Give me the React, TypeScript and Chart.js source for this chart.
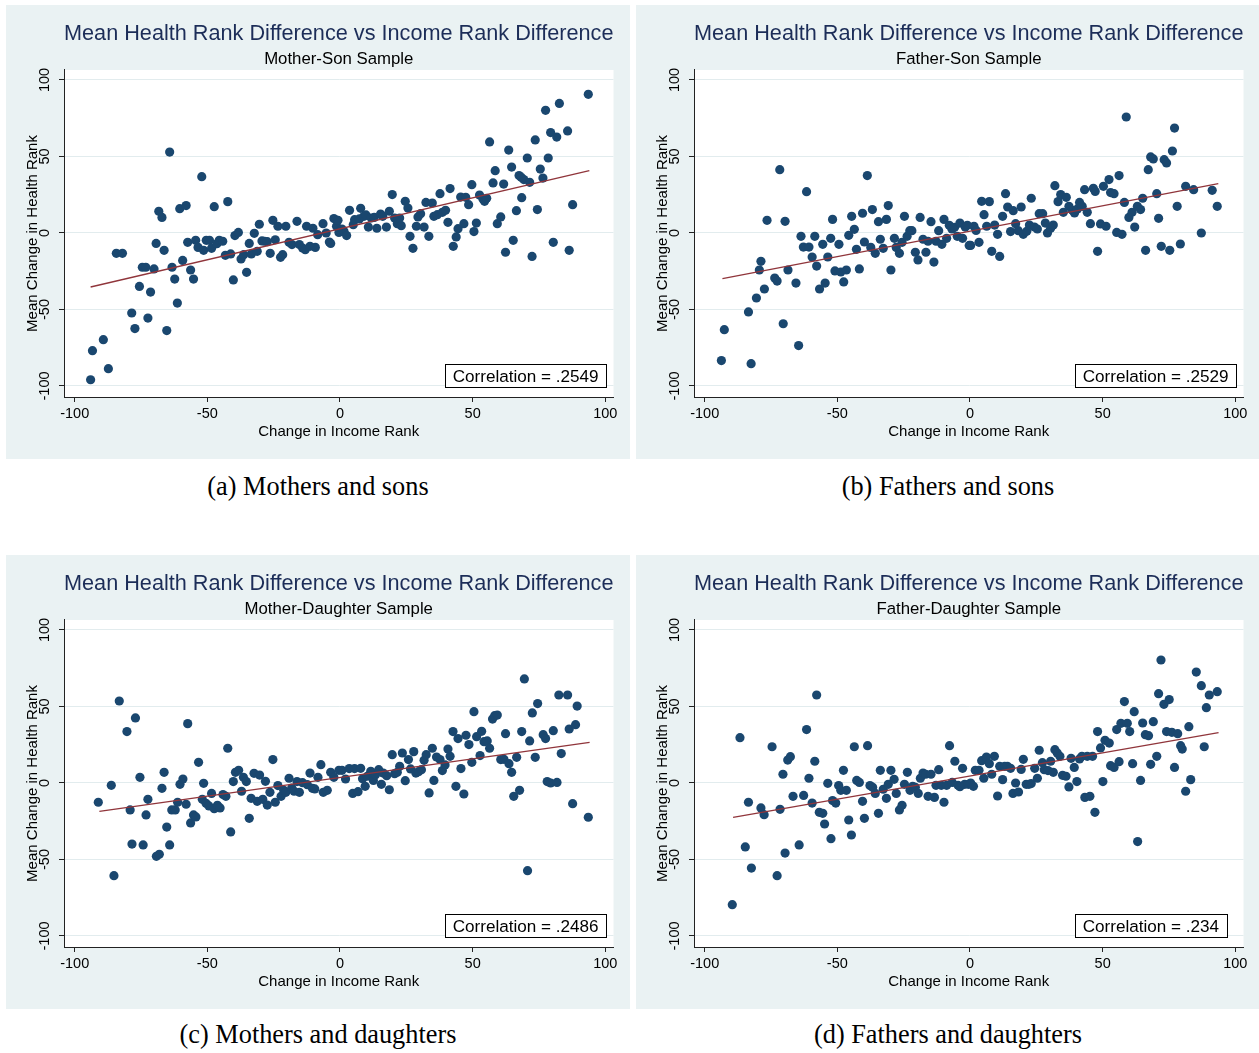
import React, { useEffect, useRef } from 'react';
import { Chart, registerables } from 'chart.js';

Chart.register(...registerables);

// ---------- data ----------
const xTicks = [-100, -50, 0, 50, 100];
const yTicks = [-100, -50, 0, 50, 100];
const mainTitle = 'Mean Health Rank Difference vs Income Rank Difference';
const xAxisTitle = 'Change in Income Rank';
const yAxisTitle = 'Mean Change in Health Rank';
const subtitles = ['Mother-Son Sample', 'Father-Son Sample', 'Mother-Daughter Sample', 'Father-Daughter Sample'];
const correlations = ['.2549', '.2529', '.2486', '.234'];
const captions = ['(a) Mothers and sons', '(b) Fathers and sons', '(c) Mothers and daughters', '(d) Fathers and daughters'];

const motherSon: [number, number][] = [
  [-94.0, -95.9], [-93.3, -76.9], [-89.2, -69.7], [-87.3, -88.7], [-84.3, -13.3], [-82.0, -13.3], [-78.5, -52.3], [-77.3, -62.5],
  [-75.6, -34.9], [-74.5, -22.4], [-73.2, -22.4], [-72.4, -55.6], [-71.4, -38.6], [-70.1, -23.5], [-69.3, -6.8], [-68.3, 14.2],
  [-67.1, 10.2], [-66.3, -11.3], [-65.3, -63.8], [-64.2, 52.9], [-63.3, -22.4], [-62.3, -30.1], [-61.3, -45.8], [-60.4, 15.9],
  [-59.3, -17.9], [-58.0, 17.9], [-57.4, -6.1], [-56.3, -24.2], [-55.2, -30.1], [-54.4, -4.8], [-53.5, -9.4], [-52.1, 36.8],
  [-51.4, -11.3], [-50.4, -4.8], [-49.2, -4.8], [-48.4, -10.0], [-47.4, 17.2], [-46.4, -7.0], [-45.5, -4.8], [-44.2, -5.4],
  [-43.2, -14.6], [-42.3, 20.5], [-41.2, -13.7], [-40.2, -30.7], [-39.6, -1.7], [-38.3, 0.4], [-37.3, -17.0], [-36.3, -14.2],
  [-35.2, -25.7], [-34.2, -6.8], [-33.4, -13.7], [-32.3, -0.2], [-31.2, -12.0], [-30.4, 5.7], [-29.4, -5.2], [-28.4, -5.4],
  [-27.4, -5.7], [-26.3, -13.3], [-25.3, 8.3], [-24.4, -4.4], [-23.4, 4.4], [-22.4, -15.9], [-21.6, -14.2], [-20.4, 4.4],
  [-19.2, -6.1], [-18.1, -7.6], [-16.2, 7.6], [-15.3, -7.6], [-14.1, -9.8], [-13.1, -10.9], [-12.6, 4.4], [-11.3, -8.7],
  [-10.2, 3.1], [-9.3, -9.4], [-8.4, -1.1], [-6.4, 6.1], [-5.2, 0], [-4.0, -5.9], [-3.5, -6.8], [-2.3, 9.4], [-1.3, 4.4],
  [-0.4, 0.4], [-0.75, 8.3], [0.75, 2.6], [1.5, 1.1], [2.5, -1.7], [3.6, 14.8], [5.0, 5.4], [5.5, 8.7], [7.8, 16.1], [7.3, 9.2],
  [9.0, 10.9], [9.8, 11.8], [10.7, 3.9], [11.8, 9.8], [12.9, 10.2], [13.9, 3.1], [15.3, 12.4], [16.1, 10.9], [17.5, 3.9],
  [18.6, 14.2], [19.7, 25.1], [20.6, 9.8], [21.6, 6.1], [22.5, 9.8], [23.1, 4.8], [24.6, 20.7], [25.6, 16.3], [26.4, -2.2],
  [27.5, -10.0], [28.8, 4.4], [29.4, 10.5], [30.4, 12.6], [31.7, 3.9], [32.4, 20.0], [33.5, -2.2], [34.8, 19.6], [35.4, 10.9],
  [36.7, 12.0], [37.7, 25.7], [38.6, 13.5], [39.8, 14.8], [40.7, 7.0], [41.5, 29.0], [42.7, -8.7], [43.8, -2.6], [44.5, 2.8],
  [45.5, 23.5], [46.7, 6.1], [47.4, 23.3], [48.5, 18.5], [49.7, 31.6], [50.5, 0.9], [51.4, 6.5], [52.6, 24.8], [53.9, 22.2],
  [54.5, 20.7], [55.3, 22.7], [56.4, 59.5], [57.7, 32.7], [58.5, 40.7], [59.3, 6.1], [60.6, 10.5], [61.7, 32.0], [62.4, -12.6],
  [63.6, 54.2], [64.7, 43.1], [65.3, -4.8], [66.5, 14.6], [67.5, 37.5], [68.3, 36.4], [68.5, 23.1], [69.3, 34.9], [70.6, 49.0],
  [71.5, 33.1], [72.4, -15.3], [73.6, 60.8], [74.4, 15.3], [75.5, 41.8], [76.5, 35.9], [77.5, 80.2], [78.5, 49.0], [79.4, 65.6],
  [80.4, -6.1], [81.7, 62.7], [82.7, 84.7], [85.8, 66.7], [86.4, -11.3], [87.7, 18.5], [93.6, 90.6],
];
const motherSonFit: [number, number][] = [[-94.0, -35.3], [94.0, 40.7]];

const fatherSon: [number, number][] = [
  [-93.7, -83.4], [-92.6, -63.2], [-82.5, -85.4], [-83.5, -51.6], [-80.5, -42.5], [-79.4, -24.2], [-78.8, -18.5], [-77.5, -36.6],
  [-76.5, 8.3], [-73.6, -29.4], [-72.7, -31.4], [-71.7, 41.4], [-70.4, -59.3], [-69.7, 7.6], [-68.6, -24.2], [-65.6, -32.7],
  [-64.6, -73.6], [-63.7, -2.2], [-62.8, -9.2], [-61.6, 27.0], [-60.7, -9.2], [-59.5, -15.7], [-58.5, -2.2], [-57.8, -21.6],
  [-56.7, -36.6], [-55.5, -7.4], [-54.6, -32.7], [-53.6, -15.7], [-52.5, -3.5], [-51.8, 8.9], [-50.9, -24.8], [-49.4, -7.4],
  [-48.7, -25.5], [-47.6, -32.0], [-46.6, -24.2], [-45.7, -1.5], [-44.6, 10.9], [-43.6, 2.4], [-42.8, -10.7], [-41.7, -23.5],
  [-40.5, 12.9], [-39.8, -5.9], [-38.7, 37.5], [-37.4, -9.4], [-36.8, 15.3], [-35.7, -13.3], [-34.5, 7.4], [-33.8, -4.1],
  [-32.7, -10.0], [-31.5, 8.9], [-30.8, 17.9], [-29.8, -24.2], [-28.5, -3.5], [-27.8, -9.4], [-26.6, -13.3], [-25.6, -6.1],
  [-24.7, 10.9], [-23.7, -2.2], [-22.7, 1.5], [-21.9, 1.5], [-20.6, -12.6], [-19.6, -17.6], [-18.8, 10.2], [-17.7, -4.1],
  [-16.6, -12.6], [-15.8, -5.4], [-14.7, 7.4], [-13.6, -19.0], [-12.8, -5.4], [-11.8, 1.5], [-10.6, -7.4], [-9.8, 8.9],
  [-8.8, -3.5], [-7.8, 5.0], [-6.8, 2.6], [-5.8, 3.7], [-4.8, -2.2], [-3.8, 6.5], [-2.8, -3.5], [-1.8, 3.9], [-0.3, -8.1],
  [-1.0, 5.0], [0.25, -8.1], [1.5, 4.4], [2.3, 1.7], [3.4, -6.1], [4.4, 20.7], [5.3, 12.0], [6.3, 4.4], [7.3, 20.5], [8.2, -12.0],
  [9.3, 5.2], [10.4, -0.9], [11.2, -15.3], [12.3, 10.9], [13.4, 25.7], [14.2, 17.0], [15.3, 0.9], [16.3, 14.6], [17.2, 6.1],
  [18.2, 1.5], [19.3, 17.0], [20.1, -0.9], [21.4, 1.1], [22.4, 5.2], [23.1, 22.7], [24.3, 3.9], [25.4, 2.6], [26.1, 12.6],
  [27.4, 12.6], [28.4, 6.5], [29.2, 0], [30.4, 3.1], [31.4, 5.2], [32.0, 30.9], [33.2, 20.5], [34.2, 25.1], [35.2, 13.5],
  [36.3, 23.3], [37.3, 17.4], [38.6, 14.8], [39.4, 13.1], [40.5, 15.7], [41.3, 20.0], [42.3, 17.4], [43.2, 28.3], [44.2, 13.5],
  [45.4, 6.1], [46.5, 29.2], [47.2, 27.2], [48.1, -12.0], [49.2, 5.9], [50.3, 30.5], [51.3, 4.4], [52.4, 34.9], [53.0, 26.4],
  [54.3, 25.7], [55.3, 0.4], [56.2, 37.5], [57.3, -0.9], [58.2, 20.0], [58.9, 75.8], [59.9, 10.2], [61.1, 13.5], [62.1, 3.9],
  [63.1, 17.4], [64.3, 15.3], [65.1, 22.7], [66.2, -11.3], [67.2, 41.4], [68.1, 49.7], [69.1, 48.4], [70.4, 25.7], [71.1, 9.6],
  [72.1, -8.7], [73.2, 47.9], [74.1, 45.8], [75.3, -11.3], [76.3, 53.6], [77.1, 68.6], [78.1, 17.4], [79.3, -7.2], [81.3, 30.5],
  [84.3, 28.3], [87.2, 0], [91.3, 27.9], [93.2, 17.4],
];
const fatherSonFit: [number, number][] = [[-93.3, -29.8], [93.6, 32.2]];

const motherDaughter: [number, number][] = [
  [-91.1, -12.6], [-86.2, -1.5], [-85.2, -60.6], [-83.2, 53.6], [-80.3, 33.6], [-79.1, -17.6], [-78.4, -39.9], [-77.1, 42.5],
  [-75.4, 3.7], [-74.2, -40.5], [-73.1, -20.9], [-72.4, -10.7], [-69.2, -47.9], [-68.1, -46.6], [-67.1, -3.5], [-66.3, 7.0],
  [-65.3, -28.8], [-64.2, -40.5], [-63.4, -17.6], [-62.1, -17.6], [-61.2, -12.6], [-60.3, -0.9], [-59.2, 2.6], [-58.0, -13.9],
  [-57.4, 38.8], [-56.3, -26.1], [-55.2, -20.9], [-54.3, -22.2], [-53.3, 13.5], [-51.4, -0.2], [-51.9, -10.7], [-50.5, -13.3],
  [-49.4, -15.0], [-48.4, -6.8], [-47.4, -16.8], [-46.2, -14.6], [-45.2, -16.3], [-44.1, -7.6], [-43.0, -8.7], [-42.3, 22.7],
  [-41.2, -32.0], [-40.2, 0.9], [-39.4, 7.0], [-38.2, 8.3], [-37.1, -5.4], [-36.4, 3.7], [-35.3, 0.9], [-34.2, -23.1],
  [-33.5, -10.0], [-32.4, 6.3], [-31.2, -12.0], [-30.3, 5.2], [-29.1, -10.7], [-28.1, 1.1], [-27.4, -14.4], [-26.4, -6.1],
  [-25.3, 15.3], [-24.4, -12.6], [-23.4, -1.7], [-22.2, -8.7], [-21.2, -4.8], [-19.2, 3.1], [-20.4, -6.1], [-18.2, -3.3],
  [-17.3, -5.4], [-16.2, 0.9], [-15.3, -6.1], [-14.1, 0.2], [-12.3, -1.1], [-11.3, 6.5], [-10.4, -3.5], [-9.5, -3.9], [-8.3, 3.7],
  [-7.2, 12.0], [-6.3, -6.1], [-4.8, -4.8], [-3.5, 7.0], [-2.3, 3.7], [-0.4, 8.3], [0.75, 8.3], [2.1, 2.6], [3.5, 9.4], [4.8, -6.8],
  [5.5, 9.4], [6.8, -5.7], [7.8, 9.6], [8.5, 2.8], [9.5, -2.2], [10.3, 4.4], [11.6, 7.6], [12.6, 1.7], [13.4, 5.4], [14.6, 8.7],
  [15.6, -0.9], [16.3, 6.5], [17.6, 4.8], [18.6, -4.4], [19.7, 18.5], [20.6, 6.1], [21.6, 7.0], [22.5, 10.9], [23.5, 19.6],
  [24.6, 1.5], [25.8, 15.3], [26.6, 9.2], [27.8, 20.5], [28.6, 6.5], [29.6, 7.4], [30.7, 8.7], [31.7, 14.8], [32.5, 18.5],
  [33.6, -6.5], [34.8, 22.7], [35.4, 1.7], [36.4, 17.0], [37.7, 15.3], [38.6, 8.1], [39.6, 11.8], [40.7, 22.2], [41.5, 17.4],
  [42.6, 33.6], [43.7, -2.2], [44.5, 29.0], [45.6, 9.4], [46.7, -7.2], [47.5, 31.2], [48.6, 25.1], [49.7, 13.5], [50.5, 46.6],
  [51.5, 30.3], [52.8, 17.9], [53.4, 33.8], [54.3, 27.0], [55.5, 27.5], [56.4, 22.7], [57.5, 41.8], [58.3, 44.0], [59.3, 44.4],
  [60.6, 15.3], [61.8, 15.5], [62.4, 32.2], [63.7, 12.6], [64.7, 7.0], [65.5, -8.7], [66.6, 16.8], [67.7, -4.8], [68.5, 33.6],
  [69.5, 68.0], [70.7, -57.3], [71.5, 27.5], [72.5, 45.8], [73.6, 16.8], [74.5, 51.9], [76.6, 31.6], [77.5, 29.0], [78.1, 0.9],
  [79.4, 0], [80.4, 34.2], [81.8, 0.4], [82.5, 57.5], [83.4, 19.2], [85.8, 57.5], [86.4, 35.3], [87.7, -13.5], [88.8, 38.1],
  [89.4, 50.3], [93.6, -22.4],
];
const motherDaughterFit: [number, number][] = [[-90.7, -18.5], [94.1, 26.6]];

const fatherDaughter: [number, number][] = [
  [-89.6, -79.5], [-86.7, 29.6], [-84.7, -41.8], [-83.5, -12.6], [-82.4, -55.6], [-78.8, -16.3], [-77.6, -20.7], [-74.6, 23.7],
  [-72.7, -60.6], [-71.6, -17.2], [-70.5, 5.7], [-69.7, -45.8], [-68.7, 15.0], [-67.7, 17.2], [-66.7, -8.7], [-64.4, -40.5],
  [-62.7, -8.1], [-61.6, 34.9], [-60.7, 3.1], [-59.5, -13.1], [-58.5, 14.2], [-57.8, 57.5], [-56.8, -19.2], [-55.5, -19.8],
  [-54.8, -26.8], [-53.6, -0.2], [-52.4, -36.4], [-51.8, -11.5], [-50.6, -13.1], [-49.5, -1.7], [-48.7, -4.8], [-47.7, 8.3],
  [-46.6, -4.8], [-45.7, -24.2], [-44.7, -34.0], [-43.6, 23.7], [-42.7, 1.7], [-41.7, 0.4], [-40.5, -12.0], [-39.8, -23.1],
  [-38.6, 24.4], [-37.7, -1.7], [-36.7, -2.8], [-35.7, -6.8], [-34.5, -19.8], [-33.8, 8.3], [-32.7, -4.1], [-31.5, -10.0],
  [-30.8, -0.9], [-29.8, 8.3], [-28.6, 2.4], [-27.8, -6.8], [-26.6, -17.6], [-25.6, -14.6], [-24.7, -0.9], [-23.6, 7.0],
  [-22.6, -4.8], [-21.6, -2.2], [-20.6, -2.8], [-19.5, -6.8], [-18.7, 3.1], [-17.7, 6.5], [-15.8, -8.7], [-16.7, 5.7],
  [-14.7, 5.7], [-13.4, -9.4], [-12.8, -1.5], [-11.8, 8.7], [-10.8, -1.5], [-9.8, -12.6], [-8.8, -1.5], [-7.7, 24.4], [-6.7, 0.4],
  [-5.7, 14.2], [-4.5, -1.5], [-3.8, -2.4], [-2.8, 9.6], [-2.0, -0.9], [-0.6, -0.9], [0.25, 0], [1.3, -2.2], [2.0, 8.3], [3.4, 8.3],
  [4.4, 14.6], [5.2, 3.1], [6.2, 17.0], [7.3, 12.6], [8.2, 5.7], [9.2, 17.4], [10.4, -8.5], [11.2, 10.9], [12.3, 2.2], [13.1, 10.9],
  [14.1, 10.9], [15.3, 9.6], [16.2, -6.8], [17.2, 0], [18.3, -5.9], [19.3, 8.9], [20.1, 15.5], [21.2, -0.9], [22.2, -0.9],
  [23.1, -0.4], [24.4, 9.6], [25.4, 3.1], [26.1, 21.4], [27.3, 13.3], [28.0, 8.7], [29.4, 8.1], [30.4, 14.2], [31.4, 7.0],
  [32.0, 21.8], [32.9, 19.6], [33.9, 17.4], [34.9, 5.0], [36.2, 4.4], [37.3, -2.6], [38.1, 16.1], [39.3, 10.2], [40.3, 0.9],
  [41.3, 15.7], [42.2, 17.4], [43.3, -9.4], [44.2, 17.4], [45.2, -8.7], [46.2, 17.4], [47.1, -19.2], [48.1, 33.6], [49.2, 22.9],
  [50.1, 0.9], [50.9, 27.9], [52.5, 26.1], [53.0, 11.3], [54.3, 10.2], [55.3, 34.9], [56.2, 13.9], [56.9, 39.0], [58.2, 53.2],
  [59.3, 39.0], [60.2, 33.6], [61.3, 12.6], [61.9, 46.6], [63.2, -38.3], [64.3, 1.7], [65.1, 39.2], [66.1, 31.6], [67.3, 30.9],
  [68.1, 12.2], [69.1, 40.1], [70.4, 17.4], [71.1, 58.4], [72.0, 80.4], [73.1, 51.4], [74.1, 33.6], [75.1, 54.5], [76.1, 33.1],
  [77.1, 10.2], [78.3, 32.2], [79.4, 24.4], [80.0, 22.2], [81.3, -5.4], [82.5, 36.8], [83.2, 2.2], [85.3, 72.5], [87.2, 63.6],
  [88.3, 23.7], [89.1, 49.2], [90.2, 57.5], [93.2, 59.7],
];
const fatherDaughterFit: [number, number][] = [[-89.3, -22.4], [93.7, 32.9]];

const panelPoints = [motherSon, fatherSon, motherDaughter, fatherDaughter];
const panelFits = [motherSonFit, fatherSonFit, motherDaughterFit, fatherDaughterFit];

// ---------- style / layout ----------
const SANS = "'Liberation Sans', Arial, Helvetica, sans-serif";
const SERIF = "'Liberation Serif', 'Times New Roman', Times, serif";
const NAVY = 'rgb(26,71,111)';
const MAROON = 'rgb(144,53,59)';
const BG = 'rgb(234,242,243)';
const GRID = 'rgb(226,236,238)';
const TITLE_COLOR = 'rgb(28,45,88)';
const AXIS = '#222';
const PANEL_W = 624;
const PANEL_H = 454;
const panelPos = [
  { left: 6, top: 5 },
  { left: 636, top: 5 },
  { left: 6, top: 555 },
  { left: 636, top: 555 },
];
const captionTop = [472, 472, 1020, 1020];
const corrBoxAnchorX = 40; // box left edge sits at this x value

const stataBackground = {
  id: 'stataBackground',
  beforeDraw(chart: any) {
    const { ctx, chartArea: a, width, height } = chart;
    ctx.save();
    ctx.fillStyle = BG;
    ctx.fillRect(0, 0, width, height);
    ctx.fillStyle = '#ffffff';
    ctx.fillRect(a.left, a.top, a.right - a.left, a.bottom - a.top);
    ctx.restore();
  },
};

const corrBox = {
  id: 'corrBox',
  afterDatasetsDraw(chart: any, _args: any, opts: any) {
    const { ctx, scales } = chart;
    const text = 'Correlation = ' + opts.value;
    ctx.save();
    ctx.font = `17.1px ${SANS}`;
    const w = ctx.measureText(text).width + 15.2;
    const h = 22.7;
    const left = scales.x.getPixelForValue(corrBoxAnchorX) - 1;
    const bottom = scales.y.getPixelForValue(-100) + 1;
    ctx.fillStyle = '#ffffff';
    ctx.fillRect(left, bottom - h, w, h);
    ctx.strokeStyle = '#000';
    ctx.lineWidth = 1;
    ctx.strokeRect(Math.round(left) + 0.5, Math.round(bottom - h) + 0.5, Math.round(w), Math.round(h));
    ctx.fillStyle = '#000';
    ctx.textAlign = 'center';
    ctx.textBaseline = 'middle';
    ctx.fillText(text, left + w / 2, bottom - h / 2 + 1.4);
    ctx.restore();
  },
};

function makeConfig(i: number): any {
  return {
    type: 'scatter',
    data: {
      datasets: [
        {
          data: panelFits[i].map(([x, y]) => ({ x, y })),
          showLine: true,
          borderColor: MAROON,
          borderWidth: 1.3,
          pointRadius: 0,
          fill: false,
          order: 0,
        },
        {
          data: panelPoints[i].map(([x, y]) => ({ x, y })),
          backgroundColor: NAVY,
          borderWidth: 0,
          pointRadius: 4.6,
          pointHoverRadius: 4.6,
          order: 1,
        },
      ],
    },
    options: {
      responsive: false,
      animation: false,
      events: [],
      layout: { padding: { left: 0, right: 16.5, top: 0, bottom: 0 } },
      plugins: {
        legend: { display: false },
        tooltip: { enabled: false },
        title: {
          display: true,
          text: mainTitle,
          fullSize: false,
          color: TITLE_COLOR,
          font: { family: SANS, size: 21.8, weight: 'normal' },
          padding: { top: 16.2, bottom: 1.36 },
        },
        subtitle: {
          display: true,
          text: subtitles[i],
          fullSize: false,
          color: '#000',
          font: { family: SANS, size: 16.8, weight: 'normal' },
          padding: { top: 0.9, bottom: 0.2 },
        },
        corrBox: { value: correlations[i] },
      },
      scales: {
        x: {
          type: 'linear',
          position: 'bottom',
          min: -104.03,
          max: 103.1,
          afterBuildTicks: (s: any) => {
            s.ticks = xTicks.map((v) => ({ value: v }));
          },
          afterFit: (s: any) => {
            s.height = 62;
          },
          grid: { drawOnChartArea: false, drawTicks: true, tickLength: 5, tickColor: AXIS, tickWidth: 1 },
          border: { display: true, color: AXIS, width: 1 },
          ticks: { color: '#000', font: { family: SANS, size: 14.5 }, padding: 3.3, maxRotation: 0, autoSkip: false },
          title: {
            display: true,
            text: xAxisTitle,
            color: '#000',
            font: { family: SANS, size: 15 },
            padding: { top: 0, bottom: 18 },
          },
        },
        y: {
          type: 'linear',
          position: 'left',
          min: -107.19,
          max: 106.54,
          afterBuildTicks: (s: any) => {
            s.ticks = yTicks.map((v) => ({ value: v }));
          },
          afterFit: (s: any) => {
            s.width = 58;
          },
          grid: { color: GRID, lineWidth: 1, drawTicks: true, tickLength: 5, tickColor: AXIS, tickWidth: 1 },
          border: { display: true, color: AXIS, width: 1 },
          ticks: {
            color: '#000',
            font: { family: SANS, size: 14.5 },
            padding: -1,
            minRotation: 90,
            maxRotation: 90,
            crossAlign: 'center',
            autoSkip: false,
          },
          title: {
            display: true,
            text: yAxisTitle,
            color: '#000',
            font: { family: SANS, size: 15 },
            padding: { top: 18, bottom: 0 },
          },
        },
      },
    },
    plugins: [stataBackground, corrBox],
  };
}

function Panel({ index }: { index: number }) {
  const ref = useRef<HTMLCanvasElement>(null);
  useEffect(() => {
    const chart = new Chart(ref.current as HTMLCanvasElement, makeConfig(index));
    return () => chart.destroy();
  }, [index]);
  const pos = panelPos[index];
  return (
    <canvas
      ref={ref}
      width={PANEL_W}
      height={PANEL_H}
      style={{ position: 'absolute', left: pos.left, top: pos.top, width: PANEL_W, height: PANEL_H }}
    />
  );
}

export default function App() {
  return (
    <div style={{ position: 'absolute', left: 0, top: 0, width: 1259, height: 1053, background: '#fff', overflow: 'hidden' }}>
      {[0, 1, 2, 3].map((i) => (
        <Panel key={i} index={i} />
      ))}
      {captions.map((c, i) => (
        <div
          key={c}
          style={{
            position: 'absolute',
            left: panelPos[i].left,
            top: captionTop[i],
            width: PANEL_W,
            textAlign: 'center',
            fontFamily: SERIF,
            fontSize: 26.3,
            lineHeight: '30px',
            color: '#000',
            whiteSpace: 'nowrap',
          }}
        >
          {c}
        </div>
      ))}
    </div>
  );
}
